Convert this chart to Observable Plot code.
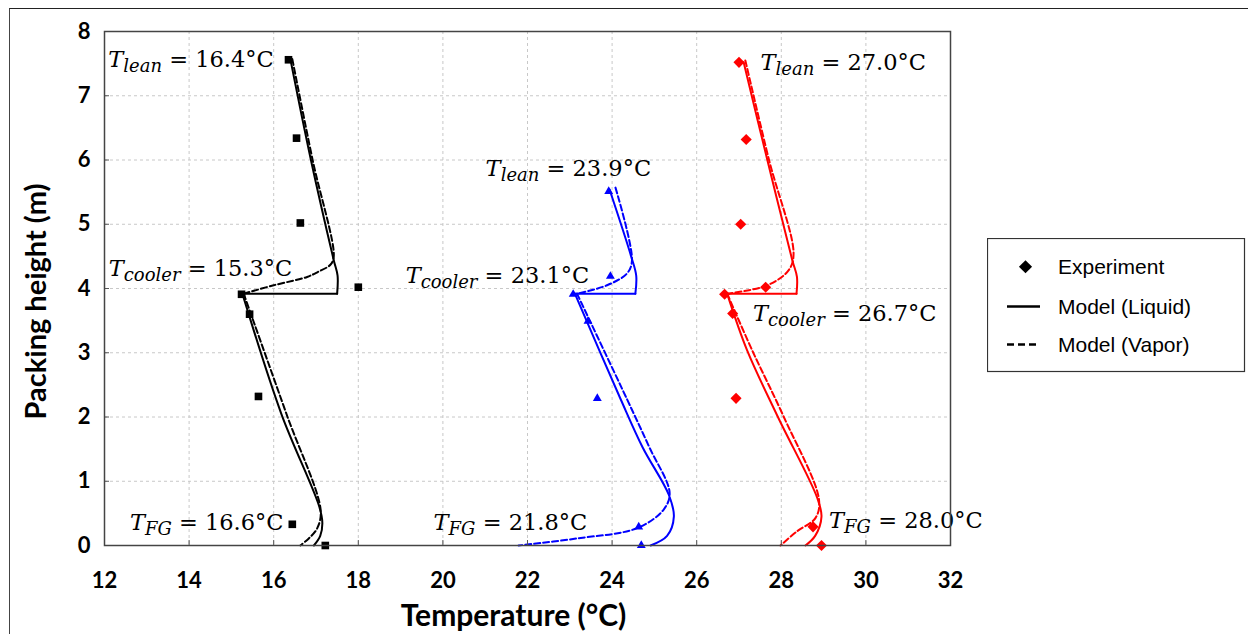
<!DOCTYPE html>
<html><head><meta charset="utf-8">
<script src="https://cdn.jsdelivr.net/npm/d3@7"></script>
<script src="https://cdn.jsdelivr.net/npm/@observablehq/plot@0.6"></script>
<style>
body{margin:0;background:#fff;}
#wrap{position:relative;width:1248px;height:634px;overflow:hidden;background:#fff;}
#chart{position:absolute;left:0;top:0;}
#outer{position:absolute;left:9px;top:8px;width:1300px;height:700px;border-top:1.5px solid #222;border-left:1.5px solid #444;}
#legend{position:absolute;left:987px;top:238px;}
</style></head><body>
<div id="wrap"><div id="outer"></div><div id="chart"></div><div id="legend"></div></div>
<script>
// ---- tick values ----
const xTicks = [12, 14, 16, 18, 20, 22, 24, 26, 28, 30, 32];
const yTicks = [0, 1, 2, 3, 4, 5, 6, 7, 8];

// ---- model profiles: [temperature °C, packing height m]; upper section (above cooler) and lower section ----
const blackLiquidUpper = [[16.40,7.55],[16.88,6.00],[17.42,4.44],[17.51,4.20],[17.50,3.92]];
const blackLiquidLower = [[15.26,3.92],[16.18,2.05],[17.08,0.60],[17.15,0.35],[17.10,0.15],[16.95,0.0]];
const blackVaporUpper  = [[16.44,7.57],[16.92,6.00],[17.42,4.50],[17.34,4.37],[17.05,4.26],[16.79,4.18],[16.00,4.05],[15.29,3.92]];
const blackVaporLower  = [[15.29,3.92],[16.30,2.05],[17.11,0.55],[17.03,0.27],[16.83,0.11],[16.63,0.0]];
const blackExp         = [[16.35,7.56],[16.54,6.34],[16.63,5.02],[18.00,4.02],[15.24,3.91],[15.43,3.60],[15.64,2.32],[16.44,0.33],[17.22,0.0]];

const blueLiquidUpper = [[23.94,5.54],[24.45,4.50],[24.57,4.20],[24.55,3.92]];
const blueLiquidLower = [[23.12,3.92],[24.20,2.28],[24.72,1.53],[25.34,0.79],[25.46,0.45],[25.30,0.15],[24.91,0.0]];
const blueVaporUpper  = [[24.08,5.57],[24.47,4.44],[24.36,4.24],[23.88,4.05],[23.17,3.92]];
const blueVaporLower  = [[23.17,3.92],[24.35,2.28],[24.88,1.53],[25.36,0.82],[25.22,0.56],[24.59,0.27],[23.17,0.11],[21.79,0.0]];
const blueExp         = [[23.92,5.51],[23.96,4.19],[23.08,3.91],[23.43,3.49],[23.65,2.29],[24.63,0.29],[24.69,0.0]];

const redLiquidUpper = [[27.11,7.52],[27.67,6.00],[28.26,4.44],[28.37,4.18],[28.36,3.92]];
const redLiquidLower = [[26.72,3.92],[27.19,3.04],[27.92,2.00],[28.85,0.74],[28.95,0.45],[28.80,0.15],[28.57,0.0]];
const redVaporUpper  = [[27.15,7.55],[27.71,6.00],[28.29,4.55],[28.18,4.29],[27.67,4.05],[26.72,3.92]];
const redVaporLower  = [[26.72,3.92],[27.31,3.04],[28.06,2.00],[28.89,0.72],[28.81,0.43],[28.37,0.22],[27.98,0.0]];
const redExp         = [[27.00,7.52],[27.17,6.32],[27.04,5.00],[27.63,4.02],[26.66,3.91],[26.85,3.61],[26.93,2.29],[28.75,0.29],[28.95,0.0]];

// ---- annotation labels: [T, h, symbol, subscript, value] ----
const annotations = [
  [12.09, 7.56, "T", "lean",   "16.4°C"],
  [12.10, 4.30, "T", "cooler", "15.3°C"],
  [12.60, 0.36, "T", "FG",     "16.6°C"],
  [21.01, 5.87, "T", "lean",   "23.9°C"],
  [19.12, 4.20, "T", "cooler", "23.1°C"],
  [19.78, 0.36, "T", "FG",     "21.8°C"],
  [27.51, 7.52, "T", "lean",   "27.0°C"],
  [27.33, 3.61, "T", "cooler", "26.7°C"],
  [29.13, 0.38, "T", "FG",     "28.0°C"]
];

const legendLabels = ["Experiment", "Model (Liquid)", "Model (Vapor)"];
const xLabel = "Temperature (°C)";
const yLabel = "Packing height (m)";

const toRows = a => a.map(([T, h]) => ({T, h}));
const series = [
  {color: "#000000", liquid: [blackLiquidUpper, blackLiquidLower], vapor: [blackVaporUpper, blackVaporLower], exp: blackExp, symbol: "square", r: 4.3},
  {color: "#0000ff", liquid: [blueLiquidUpper, blueLiquidLower], vapor: [blueVaporUpper, blueVaporLower], exp: blueExp, symbol: "triangle", r: 3.3},
  {color: "#ff0000", liquid: [redLiquidUpper, redLiquidLower], vapor: [redVaporUpper, redVaporLower], exp: redExp, symbol: "diamond2", r: 5}
];

const marks = [
  Plot.gridX(xTicks, {stroke: "#c8c8c8", strokeOpacity: 1, strokeDasharray: "3,3"}),
  Plot.gridY(yTicks, {stroke: "#c8c8c8", strokeOpacity: 1, strokeDasharray: "3,3"})
];
function profile(sections, color, dash) {
  const out = [];
  const opts = {x: "T", y: "h", stroke: color, strokeWidth: 2};
  if (dash) opts.strokeDasharray = dash;
  sections.forEach((sec, i) => {
    out.push(Plot.line(toRows(sec), {...opts, curve: "catmull-rom"}));
    if (i > 0) {
      const prev = sections[i - 1];
      out.push(Plot.line(toRows([prev[prev.length - 1], sec[0]]), opts));
    }
  });
  return out;
}
for (const s of series) {
  marks.push(...profile(s.liquid, s.color, null));
  marks.push(...profile(s.vapor, s.color, "6,3"));
  marks.push(Plot.dot(toRows(s.exp), {x: "T", y: "h", symbol: s.symbol, fill: s.color, stroke: "none", r: s.r}));
}
marks.push(Plot.text(annotations.map(([T, h, a, b, c]) => ({T, h, label: a + "|" + b + "|" + c})), {
  x: "T", y: "h", text: "label", textAnchor: "start", lineAnchor: "middle", fontSize: 22.5, fontFamily: "DejaVu Serif", fill: "#000"
}));
marks.push(Plot.axisX({ticks: xTicks, tickSize: -5, tickPadding: 32, fontSize: 22, fontWeight: "bold", fontFamily: "Lato", stroke: "#555", label: null, tickFormat: d => String(d)}));
marks.push(Plot.axisY({ticks: yTicks, tickSize: -5, tickPadding: 19, fontSize: 22, fontWeight: "bold", fontFamily: "Lato", stroke: "#555", label: null, tickFormat: d => String(d)}));
marks.push(Plot.frame({stroke: "#444", strokeWidth: 1.5}));
marks.push(Plot.text([xLabel], {text: d => d, frameAnchor: "bottom", lineAnchor: "middle", textAnchor: "middle", dx: -14, dy: 71, fontSize: 30, fontWeight: "bold", fontFamily: "Lato", fill: "#000"}));
marks.push(Plot.text([yLabel], {text: d => d, frameAnchor: "left", lineAnchor: "middle", textAnchor: "middle", dx: -68, dy: 13, rotate: -90, fontSize: 29, fontWeight: "bold", fontFamily: "Lato", fill: "#000"}));

const svg = Plot.plot({
  width: 1248, height: 634,
  marginLeft: 104, marginRight: 298, marginTop: 31, marginBottom: 89,
  x: {domain: [12, 32]},
  y: {domain: [0, 8]},
  style: {background: "transparent", color: "#000"},
  marks
});
document.getElementById("chart").appendChild(svg);

// subscripts in annotation labels
const NS = "http://www.w3.org/2000/svg";
svg.querySelectorAll("text").forEach(t => {
  if (!t.textContent.includes("|")) return;
  const [a, b, c] = t.textContent.split("|");
  t.textContent = "";
  const t1 = document.createElementNS(NS, "tspan");
  t1.setAttribute("font-style", "italic"); t1.textContent = a;
  const t2 = document.createElementNS(NS, "tspan");
  t2.setAttribute("font-style", "italic"); t2.setAttribute("font-size", "18"); t2.setAttribute("dy", "5"); t2.textContent = b;
  const t3 = document.createElementNS(NS, "tspan");
  t3.setAttribute("dy", "-5"); t3.textContent = " = " + c;
  t.append(t1, t2, t3);
});

// legend
const lg = d3.select("#legend").append("svg").attr("width", 260).attr("height", 136);
lg.append("rect").attr("x", 0.5).attr("y", 0.5).attr("width", 257).attr("height", 133).attr("fill", "#fff").attr("stroke", "#333").attr("stroke-width", 1.2);
lg.append("path").attr("d", d3.symbol(d3.symbolDiamond2, 110)()).attr("transform", "translate(38.5,28.7)").attr("fill", "#000");
lg.append("line").attr("x1", 20).attr("x2", 53).attr("y1", 68.5).attr("y2", 68.5).attr("stroke", "#000").attr("stroke-width", 2.5);
lg.append("line").attr("x1", 20).attr("x2", 53).attr("y1", 106.5).attr("y2", 106.5).attr("stroke", "#000").attr("stroke-width", 2.5).attr("stroke-dasharray", "7,4");
lg.selectAll("text.lab").data(legendLabels).join("text").attr("class", "lab")
  .attr("x", 71).attr("y", (d, i) => [28.7, 68.5, 106.5][i]).attr("dy", "0.35em")
  .attr("font-family", "Liberation Sans").attr("font-size", 21).attr("fill", "#000").text(d => d);
</script>
</body></html>
